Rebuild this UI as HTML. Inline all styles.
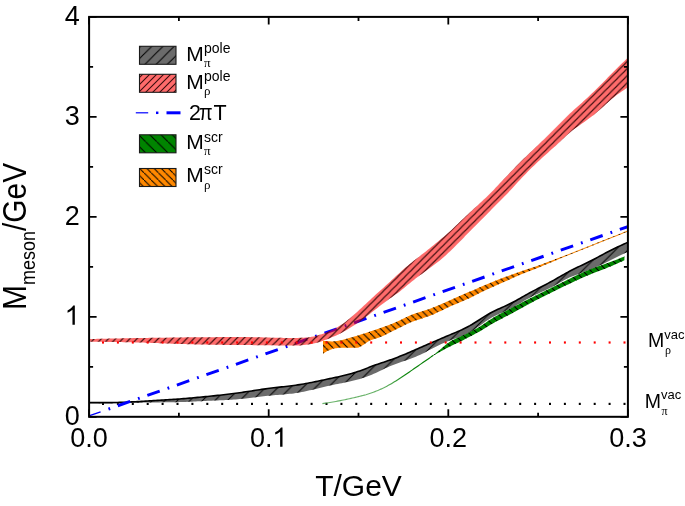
<!DOCTYPE html>
<html><head><meta charset="utf-8"><style>
html,body{margin:0;padding:0;background:#fff;}
body{width:685px;height:506px;overflow:hidden;position:relative;font-family:"Liberation Sans",sans-serif;}
svg{position:absolute;left:0;top:0;will-change:transform;}
text{font-family:"Liberation Sans",sans-serif;fill:#000;}
</style></head><body>
<svg width="685" height="506" viewBox="0 0 685 506">
<defs>
<pattern id="hg" patternUnits="userSpaceOnUse" width="12.5" height="12.5" patternTransform="translate(3,0)">
<path d="M-1,1 l2,-2 M0,12.5 l12.5,-12.5 M11.5,13.5 l2,-2" stroke="#000" stroke-width="1"/></pattern>
<pattern id="hr" patternUnits="userSpaceOnUse" width="7.1" height="7.1">
<path d="M-1,1 l2,-2 M0,7.1 l7.1,-7.1 M6.1,8.1 l2,-2" stroke="#3a0c0c" stroke-width="1.1"/></pattern>
<pattern id="hgr" patternUnits="userSpaceOnUse" width="8" height="8">
<path d="M-1,-1 l2,2 M0,0 l8,8 M7,7 l2,2" stroke="#000" stroke-width="1.1"/></pattern>
<pattern id="ho" patternUnits="userSpaceOnUse" width="7.4" height="7.4">
<path d="M-1,-1 l2,2 M0,0 l7.4,7.4 M6.4,6.4 l2,2" stroke="#000" stroke-width="1.1"/></pattern>
<pattern id="lg" patternUnits="userSpaceOnUse" width="11.2" height="11.2" patternTransform="translate(-3.5,0)">
<path d="M-1,1 l2,-2 M0,11.2 l11.2,-11.2 M10.2,12.2 l2,-2" stroke="#000" stroke-width="1"/></pattern>
<pattern id="lr" patternUnits="userSpaceOnUse" width="7" height="7">
<path d="M-1,1 l2,-2 M0,7 l7,-7 M6,8 l2,-2" stroke="#3a0c0c" stroke-width="1.1"/></pattern>
<pattern id="lgr" patternUnits="userSpaceOnUse" width="11.2" height="11.2" patternTransform="translate(0,-3.9)">
<path d="M-1,-1 l2,2 M0,0 l11.2,11.2 M10.2,10.2 l2,2" stroke="#000" stroke-width="1"/></pattern>
<pattern id="lo" patternUnits="userSpaceOnUse" width="7.2" height="7.2">
<path d="M-1,-1 l2,2 M0,0 l7.2,7.2 M6.2,6.2 l2,2" stroke="#000" stroke-width="1"/></pattern>
<clipPath id="pc"><rect x="89" y="17" width="539" height="400"/></clipPath>
</defs>

<g clip-path="url(#pc)">
<rect x="623.50" y="402.80" width="2" height="2.2" fill="#000"/><rect x="608.60" y="402.80" width="2" height="2.2" fill="#000"/><rect x="593.70" y="402.80" width="2" height="2.2" fill="#000"/><rect x="578.80" y="402.80" width="2" height="2.2" fill="#000"/><rect x="563.90" y="402.80" width="2" height="2.2" fill="#000"/><rect x="549.00" y="402.80" width="2" height="2.2" fill="#000"/><rect x="534.10" y="402.80" width="2" height="2.2" fill="#000"/><rect x="519.20" y="402.80" width="2" height="2.2" fill="#000"/><rect x="504.30" y="402.80" width="2" height="2.2" fill="#000"/><rect x="489.40" y="402.80" width="2" height="2.2" fill="#000"/><rect x="474.50" y="402.80" width="2" height="2.2" fill="#000"/><rect x="459.60" y="402.80" width="2" height="2.2" fill="#000"/><rect x="444.70" y="402.80" width="2" height="2.2" fill="#000"/><rect x="429.80" y="402.80" width="2" height="2.2" fill="#000"/><rect x="414.90" y="402.80" width="2" height="2.2" fill="#000"/><rect x="400.00" y="402.80" width="2" height="2.2" fill="#000"/><rect x="385.10" y="402.80" width="2" height="2.2" fill="#000"/><rect x="370.20" y="402.80" width="2" height="2.2" fill="#000"/><rect x="355.30" y="402.80" width="2" height="2.2" fill="#000"/><rect x="340.40" y="402.80" width="2" height="2.2" fill="#000"/><rect x="325.50" y="402.80" width="2" height="2.2" fill="#000"/><rect x="310.60" y="402.80" width="2" height="2.2" fill="#000"/><rect x="295.70" y="402.80" width="2" height="2.2" fill="#000"/><rect x="280.80" y="402.80" width="2" height="2.2" fill="#000"/><rect x="265.90" y="402.80" width="2" height="2.2" fill="#000"/><rect x="251.00" y="402.80" width="2" height="2.2" fill="#000"/><rect x="236.10" y="402.80" width="2" height="2.2" fill="#000"/><rect x="221.20" y="402.80" width="2" height="2.2" fill="#000"/><rect x="206.30" y="402.80" width="2" height="2.2" fill="#000"/><rect x="191.40" y="402.80" width="2" height="2.2" fill="#000"/><rect x="176.50" y="402.80" width="2" height="2.2" fill="#000"/><rect x="161.60" y="402.80" width="2" height="2.2" fill="#000"/><rect x="146.70" y="402.80" width="2" height="2.2" fill="#000"/><rect x="131.80" y="402.80" width="2" height="2.2" fill="#000"/><rect x="116.90" y="402.80" width="2" height="2.2" fill="#000"/><rect x="102.00" y="402.80" width="2" height="2.2" fill="#000"/>
<path d="M89.50,402.60 L91.50,402.61 L93.50,402.62 L95.51,402.63 L97.51,402.64 L99.51,402.64 L101.51,402.64 L103.51,402.64 L105.51,402.63 L107.52,402.62 L109.52,402.60 L111.52,402.58 L113.52,402.55 L115.52,402.51 L117.53,402.47 L119.53,402.41 L121.53,402.35 L123.53,402.28 L125.53,402.20 L127.54,402.11 L129.54,402.01 L131.54,401.91 L133.54,401.81 L135.54,401.70 L137.54,401.59 L139.55,401.47 L141.55,401.35 L143.55,401.23 L145.55,401.11 L147.55,400.99 L149.56,400.87 L151.56,400.75 L153.56,400.63 L155.56,400.51 L157.56,400.39 L159.57,400.27 L161.57,400.15 L163.57,400.03 L165.57,399.91 L167.57,399.78 L169.57,399.65 L171.58,399.52 L173.58,399.39 L175.58,399.25 L177.58,399.10 L179.58,398.96 L181.59,398.80 L183.59,398.64 L185.59,398.48 L187.59,398.31 L189.59,398.14 L191.59,397.97 L193.60,397.79 L195.60,397.60 L197.60,397.42 L199.60,397.23 L201.60,397.04 L203.61,396.84 L205.61,396.64 L207.61,396.44 L209.61,396.24 L211.61,396.03 L213.62,395.83 L215.62,395.62 L217.62,395.40 L219.62,395.18 L221.62,394.96 L223.62,394.74 L225.63,394.50 L227.63,394.27 L229.63,394.03 L231.63,393.78 L233.63,393.52 L235.64,393.26 L237.64,392.99 L239.64,392.71 L241.64,392.42 L243.64,392.13 L245.64,391.83 L247.65,391.53 L249.65,391.22 L251.65,390.92 L253.65,390.61 L255.65,390.31 L257.66,390.01 L259.66,389.71 L261.66,389.41 L263.66,389.13 L265.66,388.85 L267.67,388.58 L269.67,388.32 L271.67,388.07 L273.67,387.83 L275.67,387.59 L277.67,387.36 L279.68,387.14 L281.68,386.91 L283.68,386.68 L285.68,386.45 L287.68,386.22 L289.69,385.97 L291.69,385.72 L293.69,385.46 L295.69,385.18 L297.69,384.89 L299.70,384.59 L301.70,384.26 L303.70,383.92 L305.70,383.57 L307.70,383.20 L309.70,382.82 L311.71,382.43 L313.71,382.02 L315.71,381.62 L317.71,381.20 L319.71,380.78 L321.72,380.36 L323.72,379.93 L325.72,379.50 L327.72,379.08 L329.72,378.65 L331.72,378.23 L333.73,377.80 L335.73,377.38 L337.73,376.94 L339.73,376.50 L341.73,376.04 L343.74,375.57 L345.74,375.08 L347.74,374.57 L349.74,374.04 L351.74,373.48 L353.75,372.89 L355.75,372.27 L357.75,371.61 L359.75,370.92 L361.75,370.19 L363.75,369.44 L365.76,368.67 L367.76,367.88 L369.76,367.10 L371.76,366.33 L373.76,365.57 L375.77,364.85 L377.77,364.15 L379.77,363.47 L381.77,362.80 L383.77,362.14 L385.78,361.48 L387.78,360.81 L389.78,360.12 L391.78,359.40 L393.78,358.67 L395.78,357.91 L397.79,357.14 L399.79,356.34 L401.79,355.54 L403.79,354.72 L405.79,353.89 L407.80,353.04 L409.80,352.19 L411.80,351.33 L413.80,350.47 L415.80,349.60 L417.80,348.72 L419.81,347.85 L421.81,346.98 L423.81,346.10 L425.81,345.23 L427.81,344.35 L429.82,343.48 L431.82,342.61 L433.82,341.74 L435.82,340.87 L437.82,340.00 L439.83,339.13 L441.83,338.27 L443.83,337.42 L445.83,336.57 L447.83,335.72 L449.83,334.88 L451.84,334.04 L453.84,333.21 L455.84,332.37 L457.84,331.51 L459.84,330.63 L461.85,329.73 L463.85,328.78 L465.85,327.79 L467.85,326.75 L469.85,325.66 L471.86,324.50 L473.86,323.28 L475.86,322.03 L477.86,320.75 L479.86,319.46 L481.86,318.17 L483.87,316.89 L485.87,315.65 L487.87,314.45 L489.87,313.30 L491.87,312.23 L493.88,311.21 L495.88,310.25 L497.88,309.32 L499.88,308.41 L501.88,307.52 L503.88,306.63 L505.89,305.72 L507.89,304.79 L509.89,303.83 L511.89,302.82 L513.89,301.76 L515.90,300.68 L517.90,299.56 L519.90,298.43 L521.90,297.29 L523.90,296.14 L525.91,295.00 L527.91,293.87 L529.91,292.77 L531.91,291.69 L533.91,290.63 L535.91,289.59 L537.92,288.56 L539.92,287.54 L541.92,286.52 L543.92,285.50 L545.92,284.46 L547.93,283.40 L549.93,282.32 L551.93,281.22 L553.93,280.09 L555.93,278.95 L557.93,277.79 L559.94,276.64 L561.94,275.48 L563.94,274.34 L565.94,273.22 L567.94,272.12 L569.95,271.04 L571.95,270.01 L573.95,269.01 L575.95,268.03 L577.95,267.07 L579.96,266.11 L581.96,265.17 L583.96,264.22 L585.96,263.27 L587.96,262.30 L589.96,261.30 L591.97,260.28 L593.97,259.24 L595.97,258.18 L597.97,257.11 L599.97,256.03 L601.98,254.95 L603.98,253.87 L605.98,252.81 L607.98,251.75 L609.98,250.72 L611.99,249.71 L613.99,248.72 L615.99,247.75 L617.99,246.80 L619.99,245.86 L621.99,244.94 L624.00,244.02 L626.00,243.11 L628.00,242.20 L628.00,251.70 L626.00,252.66 L624.00,253.61 L621.99,254.57 L619.99,255.54 L617.99,256.50 L615.99,257.47 L613.99,258.45 L611.99,259.43 L609.98,260.42 L607.98,261.41 L605.98,262.41 L603.98,263.40 L601.98,264.38 L599.97,265.35 L597.97,266.30 L595.97,267.22 L593.97,268.12 L591.97,268.98 L589.96,269.79 L587.96,270.57 L585.96,271.30 L583.96,272.02 L581.96,272.72 L579.96,273.42 L577.95,274.14 L575.95,274.88 L573.95,275.65 L571.95,276.47 L569.95,277.35 L567.94,278.30 L565.94,279.31 L563.94,280.36 L561.94,281.44 L559.94,282.55 L557.93,283.67 L555.93,284.78 L553.93,285.89 L551.93,286.97 L549.93,288.01 L547.93,289.01 L545.92,289.97 L543.92,290.90 L541.92,291.82 L539.92,292.73 L537.92,293.65 L535.91,294.58 L533.91,295.54 L531.91,296.53 L529.91,297.58 L527.91,298.68 L525.91,299.82 L523.90,300.99 L521.90,302.18 L519.90,303.38 L517.90,304.57 L515.90,305.75 L513.89,306.89 L511.89,307.98 L509.89,309.02 L507.89,309.99 L505.89,310.91 L503.88,311.79 L501.88,312.67 L499.88,313.54 L497.88,314.44 L495.88,315.38 L493.88,316.38 L491.87,317.46 L489.87,318.63 L487.87,319.91 L485.87,321.27 L483.87,322.70 L481.86,324.17 L479.86,325.65 L477.86,327.12 L475.86,328.56 L473.86,329.94 L471.86,331.24 L469.85,332.43 L467.85,333.50 L465.85,334.46 L463.85,335.34 L461.85,336.13 L459.84,336.88 L457.84,337.58 L455.84,338.27 L453.84,338.95 L451.84,339.65 L449.83,340.39 L447.83,341.17 L445.83,342.01 L443.83,342.88 L441.83,343.79 L439.83,344.73 L437.82,345.71 L435.82,346.70 L433.82,347.72 L431.82,348.76 L429.82,349.81 L427.81,350.86 L425.81,351.91 L423.81,352.94 L421.81,353.94 L419.81,354.90 L417.80,355.81 L415.80,356.67 L413.80,357.48 L411.80,358.25 L409.80,358.98 L407.80,359.70 L405.79,360.40 L403.79,361.09 L401.79,361.78 L399.79,362.47 L397.79,363.18 L395.78,363.91 L393.78,364.66 L391.78,365.45 L389.78,366.29 L387.78,367.17 L385.78,368.10 L383.77,369.06 L381.77,370.04 L379.77,371.02 L377.77,371.99 L375.77,372.93 L373.76,373.84 L371.76,374.70 L369.76,375.51 L367.76,376.29 L365.76,377.02 L363.75,377.71 L361.75,378.37 L359.75,378.98 L357.75,379.55 L355.75,380.09 L353.75,380.59 L351.74,381.06 L349.74,381.52 L347.74,381.95 L345.74,382.36 L343.74,382.76 L341.73,383.15 L339.73,383.54 L337.73,383.93 L335.73,384.32 L333.73,384.72 L331.72,385.13 L329.72,385.55 L327.72,386.00 L325.72,386.46 L323.72,386.93 L321.72,387.42 L319.71,387.92 L317.71,388.41 L315.71,388.91 L313.71,389.41 L311.71,389.90 L309.70,390.37 L307.70,390.84 L305.70,391.28 L303.70,391.70 L301.70,392.10 L299.70,392.47 L297.69,392.81 L295.69,393.11 L293.69,393.39 L291.69,393.64 L289.69,393.87 L287.68,394.08 L285.68,394.27 L283.68,394.45 L281.68,394.63 L279.68,394.79 L277.67,394.95 L275.67,395.12 L273.67,395.29 L271.67,395.46 L269.67,395.64 L267.67,395.84 L265.66,396.05 L263.66,396.27 L261.66,396.50 L259.66,396.73 L257.66,396.97 L255.65,397.22 L253.65,397.46 L251.65,397.71 L249.65,397.95 L247.65,398.18 L245.64,398.41 L243.64,398.63 L241.64,398.84 L239.64,399.04 L237.64,399.22 L235.64,399.38 L233.63,399.54 L231.63,399.68 L229.63,399.81 L227.63,399.93 L225.63,400.04 L223.62,400.14 L221.62,400.24 L219.62,400.33 L217.62,400.42 L215.62,400.51 L213.62,400.60 L211.61,400.69 L209.61,400.77 L207.61,400.87 L205.61,400.96 L203.61,401.06 L201.60,401.15 L199.60,401.25 L197.60,401.35 L195.60,401.44 L193.60,401.54 L191.59,401.63 L189.59,401.72 L187.59,401.80 L185.59,401.88 L183.59,401.95 L181.59,402.02 L179.58,402.08 L177.58,402.13 L175.58,402.18 L173.58,402.22 L171.58,402.25 L169.57,402.28 L167.57,402.30 L165.57,402.32 L163.57,402.34 L161.57,402.36 L159.57,402.38 L157.56,402.39 L155.56,402.41 L153.56,402.44 L151.56,402.46 L149.56,402.49 L147.55,402.53 L145.55,402.57 L143.55,402.61 L141.55,402.66 L139.55,402.71 L137.54,402.77 L135.54,402.82 L133.54,402.88 L131.54,402.93 L129.54,402.98 L127.54,403.04 L125.53,403.08 L123.53,403.13 L121.53,403.17 L119.53,403.21 L117.53,403.24 L115.52,403.26 L113.52,403.28 L111.52,403.30 L109.52,403.31 L107.52,403.32 L105.51,403.33 L103.51,403.33 L101.51,403.33 L99.51,403.33 L97.51,403.33 L95.51,403.32 L93.50,403.31 L91.50,403.31 L89.50,403.30Z" fill="#6b6b6b"/><path d="M89.50,402.60 L91.50,402.61 L93.50,402.62 L95.51,402.63 L97.51,402.64 L99.51,402.64 L101.51,402.64 L103.51,402.64 L105.51,402.63 L107.52,402.62 L109.52,402.60 L111.52,402.58 L113.52,402.55 L115.52,402.51 L117.53,402.47 L119.53,402.41 L121.53,402.35 L123.53,402.28 L125.53,402.20 L127.54,402.11 L129.54,402.01 L131.54,401.91 L133.54,401.81 L135.54,401.70 L137.54,401.59 L139.55,401.47 L141.55,401.35 L143.55,401.23 L145.55,401.11 L147.55,400.99 L149.56,400.87 L151.56,400.75 L153.56,400.63 L155.56,400.51 L157.56,400.39 L159.57,400.27 L161.57,400.15 L163.57,400.03 L165.57,399.91 L167.57,399.78 L169.57,399.65 L171.58,399.52 L173.58,399.39 L175.58,399.25 L177.58,399.10 L179.58,398.96 L181.59,398.80 L183.59,398.64 L185.59,398.48 L187.59,398.31 L189.59,398.14 L191.59,397.97 L193.60,397.79 L195.60,397.60 L197.60,397.42 L199.60,397.23 L201.60,397.04 L203.61,396.84 L205.61,396.64 L207.61,396.44 L209.61,396.24 L211.61,396.03 L213.62,395.83 L215.62,395.62 L217.62,395.40 L219.62,395.18 L221.62,394.96 L223.62,394.74 L225.63,394.50 L227.63,394.27 L229.63,394.03 L231.63,393.78 L233.63,393.52 L235.64,393.26 L237.64,392.99 L239.64,392.71 L241.64,392.42 L243.64,392.13 L245.64,391.83 L247.65,391.53 L249.65,391.22 L251.65,390.92 L253.65,390.61 L255.65,390.31 L257.66,390.01 L259.66,389.71 L261.66,389.41 L263.66,389.13 L265.66,388.85 L267.67,388.58 L269.67,388.32 L271.67,388.07 L273.67,387.83 L275.67,387.59 L277.67,387.36 L279.68,387.14 L281.68,386.91 L283.68,386.68 L285.68,386.45 L287.68,386.22 L289.69,385.97 L291.69,385.72 L293.69,385.46 L295.69,385.18 L297.69,384.89 L299.70,384.59 L301.70,384.26 L303.70,383.92 L305.70,383.57 L307.70,383.20 L309.70,382.82 L311.71,382.43 L313.71,382.02 L315.71,381.62 L317.71,381.20 L319.71,380.78 L321.72,380.36 L323.72,379.93 L325.72,379.50 L327.72,379.08 L329.72,378.65 L331.72,378.23 L333.73,377.80 L335.73,377.38 L337.73,376.94 L339.73,376.50 L341.73,376.04 L343.74,375.57 L345.74,375.08 L347.74,374.57 L349.74,374.04 L351.74,373.48 L353.75,372.89 L355.75,372.27 L357.75,371.61 L359.75,370.92 L361.75,370.19 L363.75,369.44 L365.76,368.67 L367.76,367.88 L369.76,367.10 L371.76,366.33 L373.76,365.57 L375.77,364.85 L377.77,364.15 L379.77,363.47 L381.77,362.80 L383.77,362.14 L385.78,361.48 L387.78,360.81 L389.78,360.12 L391.78,359.40 L393.78,358.67 L395.78,357.91 L397.79,357.14 L399.79,356.34 L401.79,355.54 L403.79,354.72 L405.79,353.89 L407.80,353.04 L409.80,352.19 L411.80,351.33 L413.80,350.47 L415.80,349.60 L417.80,348.72 L419.81,347.85 L421.81,346.98 L423.81,346.10 L425.81,345.23 L427.81,344.35 L429.82,343.48 L431.82,342.61 L433.82,341.74 L435.82,340.87 L437.82,340.00 L439.83,339.13 L441.83,338.27 L443.83,337.42 L445.83,336.57 L447.83,335.72 L449.83,334.88 L451.84,334.04 L453.84,333.21 L455.84,332.37 L457.84,331.51 L459.84,330.63 L461.85,329.73 L463.85,328.78 L465.85,327.79 L467.85,326.75 L469.85,325.66 L471.86,324.50 L473.86,323.28 L475.86,322.03 L477.86,320.75 L479.86,319.46 L481.86,318.17 L483.87,316.89 L485.87,315.65 L487.87,314.45 L489.87,313.30 L491.87,312.23 L493.88,311.21 L495.88,310.25 L497.88,309.32 L499.88,308.41 L501.88,307.52 L503.88,306.63 L505.89,305.72 L507.89,304.79 L509.89,303.83 L511.89,302.82 L513.89,301.76 L515.90,300.68 L517.90,299.56 L519.90,298.43 L521.90,297.29 L523.90,296.14 L525.91,295.00 L527.91,293.87 L529.91,292.77 L531.91,291.69 L533.91,290.63 L535.91,289.59 L537.92,288.56 L539.92,287.54 L541.92,286.52 L543.92,285.50 L545.92,284.46 L547.93,283.40 L549.93,282.32 L551.93,281.22 L553.93,280.09 L555.93,278.95 L557.93,277.79 L559.94,276.64 L561.94,275.48 L563.94,274.34 L565.94,273.22 L567.94,272.12 L569.95,271.04 L571.95,270.01 L573.95,269.01 L575.95,268.03 L577.95,267.07 L579.96,266.11 L581.96,265.17 L583.96,264.22 L585.96,263.27 L587.96,262.30 L589.96,261.30 L591.97,260.28 L593.97,259.24 L595.97,258.18 L597.97,257.11 L599.97,256.03 L601.98,254.95 L603.98,253.87 L605.98,252.81 L607.98,251.75 L609.98,250.72 L611.99,249.71 L613.99,248.72 L615.99,247.75 L617.99,246.80 L619.99,245.86 L621.99,244.94 L624.00,244.02 L626.00,243.11 L628.00,242.20 L628.00,251.70 L626.00,252.66 L624.00,253.61 L621.99,254.57 L619.99,255.54 L617.99,256.50 L615.99,257.47 L613.99,258.45 L611.99,259.43 L609.98,260.42 L607.98,261.41 L605.98,262.41 L603.98,263.40 L601.98,264.38 L599.97,265.35 L597.97,266.30 L595.97,267.22 L593.97,268.12 L591.97,268.98 L589.96,269.79 L587.96,270.57 L585.96,271.30 L583.96,272.02 L581.96,272.72 L579.96,273.42 L577.95,274.14 L575.95,274.88 L573.95,275.65 L571.95,276.47 L569.95,277.35 L567.94,278.30 L565.94,279.31 L563.94,280.36 L561.94,281.44 L559.94,282.55 L557.93,283.67 L555.93,284.78 L553.93,285.89 L551.93,286.97 L549.93,288.01 L547.93,289.01 L545.92,289.97 L543.92,290.90 L541.92,291.82 L539.92,292.73 L537.92,293.65 L535.91,294.58 L533.91,295.54 L531.91,296.53 L529.91,297.58 L527.91,298.68 L525.91,299.82 L523.90,300.99 L521.90,302.18 L519.90,303.38 L517.90,304.57 L515.90,305.75 L513.89,306.89 L511.89,307.98 L509.89,309.02 L507.89,309.99 L505.89,310.91 L503.88,311.79 L501.88,312.67 L499.88,313.54 L497.88,314.44 L495.88,315.38 L493.88,316.38 L491.87,317.46 L489.87,318.63 L487.87,319.91 L485.87,321.27 L483.87,322.70 L481.86,324.17 L479.86,325.65 L477.86,327.12 L475.86,328.56 L473.86,329.94 L471.86,331.24 L469.85,332.43 L467.85,333.50 L465.85,334.46 L463.85,335.34 L461.85,336.13 L459.84,336.88 L457.84,337.58 L455.84,338.27 L453.84,338.95 L451.84,339.65 L449.83,340.39 L447.83,341.17 L445.83,342.01 L443.83,342.88 L441.83,343.79 L439.83,344.73 L437.82,345.71 L435.82,346.70 L433.82,347.72 L431.82,348.76 L429.82,349.81 L427.81,350.86 L425.81,351.91 L423.81,352.94 L421.81,353.94 L419.81,354.90 L417.80,355.81 L415.80,356.67 L413.80,357.48 L411.80,358.25 L409.80,358.98 L407.80,359.70 L405.79,360.40 L403.79,361.09 L401.79,361.78 L399.79,362.47 L397.79,363.18 L395.78,363.91 L393.78,364.66 L391.78,365.45 L389.78,366.29 L387.78,367.17 L385.78,368.10 L383.77,369.06 L381.77,370.04 L379.77,371.02 L377.77,371.99 L375.77,372.93 L373.76,373.84 L371.76,374.70 L369.76,375.51 L367.76,376.29 L365.76,377.02 L363.75,377.71 L361.75,378.37 L359.75,378.98 L357.75,379.55 L355.75,380.09 L353.75,380.59 L351.74,381.06 L349.74,381.52 L347.74,381.95 L345.74,382.36 L343.74,382.76 L341.73,383.15 L339.73,383.54 L337.73,383.93 L335.73,384.32 L333.73,384.72 L331.72,385.13 L329.72,385.55 L327.72,386.00 L325.72,386.46 L323.72,386.93 L321.72,387.42 L319.71,387.92 L317.71,388.41 L315.71,388.91 L313.71,389.41 L311.71,389.90 L309.70,390.37 L307.70,390.84 L305.70,391.28 L303.70,391.70 L301.70,392.10 L299.70,392.47 L297.69,392.81 L295.69,393.11 L293.69,393.39 L291.69,393.64 L289.69,393.87 L287.68,394.08 L285.68,394.27 L283.68,394.45 L281.68,394.63 L279.68,394.79 L277.67,394.95 L275.67,395.12 L273.67,395.29 L271.67,395.46 L269.67,395.64 L267.67,395.84 L265.66,396.05 L263.66,396.27 L261.66,396.50 L259.66,396.73 L257.66,396.97 L255.65,397.22 L253.65,397.46 L251.65,397.71 L249.65,397.95 L247.65,398.18 L245.64,398.41 L243.64,398.63 L241.64,398.84 L239.64,399.04 L237.64,399.22 L235.64,399.38 L233.63,399.54 L231.63,399.68 L229.63,399.81 L227.63,399.93 L225.63,400.04 L223.62,400.14 L221.62,400.24 L219.62,400.33 L217.62,400.42 L215.62,400.51 L213.62,400.60 L211.61,400.69 L209.61,400.77 L207.61,400.87 L205.61,400.96 L203.61,401.06 L201.60,401.15 L199.60,401.25 L197.60,401.35 L195.60,401.44 L193.60,401.54 L191.59,401.63 L189.59,401.72 L187.59,401.80 L185.59,401.88 L183.59,401.95 L181.59,402.02 L179.58,402.08 L177.58,402.13 L175.58,402.18 L173.58,402.22 L171.58,402.25 L169.57,402.28 L167.57,402.30 L165.57,402.32 L163.57,402.34 L161.57,402.36 L159.57,402.38 L157.56,402.39 L155.56,402.41 L153.56,402.44 L151.56,402.46 L149.56,402.49 L147.55,402.53 L145.55,402.57 L143.55,402.61 L141.55,402.66 L139.55,402.71 L137.54,402.77 L135.54,402.82 L133.54,402.88 L131.54,402.93 L129.54,402.98 L127.54,403.04 L125.53,403.08 L123.53,403.13 L121.53,403.17 L119.53,403.21 L117.53,403.24 L115.52,403.26 L113.52,403.28 L111.52,403.30 L109.52,403.31 L107.52,403.32 L105.51,403.33 L103.51,403.33 L101.51,403.33 L99.51,403.33 L97.51,403.33 L95.51,403.32 L93.50,403.31 L91.50,403.31 L89.50,403.30Z" fill="url(#hg)"/>
<path d="M89.50,402.60 L91.50,402.61 L93.50,402.62 L95.51,402.63 L97.51,402.64 L99.51,402.64 L101.51,402.64 L103.51,402.64 L105.51,402.63 L107.52,402.62 L109.52,402.60 L111.52,402.58 L113.52,402.55 L115.52,402.51 L117.53,402.47 L119.53,402.41 L121.53,402.35 L123.53,402.28 L125.53,402.20 L127.54,402.11 L129.54,402.01 L131.54,401.91 L133.54,401.81 L135.54,401.70 L137.54,401.59 L139.55,401.47 L141.55,401.35 L143.55,401.23 L145.55,401.11 L147.55,400.99 L149.56,400.87 L151.56,400.75 L153.56,400.63 L155.56,400.51 L157.56,400.39 L159.57,400.27 L161.57,400.15 L163.57,400.03 L165.57,399.91 L167.57,399.78 L169.57,399.65 L171.58,399.52 L173.58,399.39 L175.58,399.25 L177.58,399.10 L179.58,398.96 L181.59,398.80 L183.59,398.64 L185.59,398.48 L187.59,398.31 L189.59,398.14 L191.59,397.97 L193.60,397.79 L195.60,397.60 L197.60,397.42 L199.60,397.23 L201.60,397.04 L203.61,396.84 L205.61,396.64 L207.61,396.44 L209.61,396.24 L211.61,396.03 L213.62,395.83 L215.62,395.62 L217.62,395.40 L219.62,395.18 L221.62,394.96 L223.62,394.74 L225.63,394.50 L227.63,394.27 L229.63,394.03 L231.63,393.78 L233.63,393.52 L235.64,393.26 L237.64,392.99 L239.64,392.71 L241.64,392.42 L243.64,392.13 L245.64,391.83 L247.65,391.53 L249.65,391.22 L251.65,390.92 L253.65,390.61 L255.65,390.31 L257.66,390.01 L259.66,389.71 L261.66,389.41 L263.66,389.13 L265.66,388.85 L267.67,388.58 L269.67,388.32 L271.67,388.07 L273.67,387.83 L275.67,387.59 L277.67,387.36 L279.68,387.14 L281.68,386.91 L283.68,386.68 L285.68,386.45 L287.68,386.22 L289.69,385.97 L291.69,385.72 L293.69,385.46 L295.69,385.18 L297.69,384.89 L299.70,384.59 L301.70,384.26 L303.70,383.92 L305.70,383.57 L307.70,383.20 L309.70,382.82 L311.71,382.43 L313.71,382.02 L315.71,381.62 L317.71,381.20 L319.71,380.78 L321.72,380.36 L323.72,379.93 L325.72,379.50 L327.72,379.08 L329.72,378.65 L331.72,378.23 L333.73,377.80 L335.73,377.38 L337.73,376.94 L339.73,376.50 L341.73,376.04 L343.74,375.57 L345.74,375.08 L347.74,374.57 L349.74,374.04 L351.74,373.48 L353.75,372.89 L355.75,372.27 L357.75,371.61 L359.75,370.92 L361.75,370.19 L363.75,369.44 L365.76,368.67 L367.76,367.88 L369.76,367.10 L371.76,366.33 L373.76,365.57 L375.77,364.85 L377.77,364.15 L379.77,363.47 L381.77,362.80 L383.77,362.14 L385.78,361.48 L387.78,360.81 L389.78,360.12 L391.78,359.40 L393.78,358.67 L395.78,357.91 L397.79,357.14 L399.79,356.34 L401.79,355.54 L403.79,354.72 L405.79,353.89 L407.80,353.04 L409.80,352.19 L411.80,351.33 L413.80,350.47 L415.80,349.60 L417.80,348.72 L419.81,347.85 L421.81,346.98 L423.81,346.10 L425.81,345.23 L427.81,344.35 L429.82,343.48 L431.82,342.61 L433.82,341.74 L435.82,340.87 L437.82,340.00 L439.83,339.13 L441.83,338.27 L443.83,337.42 L445.83,336.57 L447.83,335.72 L449.83,334.88 L451.84,334.04 L453.84,333.21 L455.84,332.37 L457.84,331.51 L459.84,330.63 L461.85,329.73 L463.85,328.78 L465.85,327.79 L467.85,326.75 L469.85,325.66 L471.86,324.50 L473.86,323.28 L475.86,322.03 L477.86,320.75 L479.86,319.46 L481.86,318.17 L483.87,316.89 L485.87,315.65 L487.87,314.45 L489.87,313.30 L491.87,312.23 L493.88,311.21 L495.88,310.25 L497.88,309.32 L499.88,308.41 L501.88,307.52 L503.88,306.63 L505.89,305.72 L507.89,304.79 L509.89,303.83 L511.89,302.82 L513.89,301.76 L515.90,300.68 L517.90,299.56 L519.90,298.43 L521.90,297.29 L523.90,296.14 L525.91,295.00 L527.91,293.87 L529.91,292.77 L531.91,291.69 L533.91,290.63 L535.91,289.59 L537.92,288.56 L539.92,287.54 L541.92,286.52 L543.92,285.50 L545.92,284.46 L547.93,283.40 L549.93,282.32 L551.93,281.22 L553.93,280.09 L555.93,278.95 L557.93,277.79 L559.94,276.64 L561.94,275.48 L563.94,274.34 L565.94,273.22 L567.94,272.12 L569.95,271.04 L571.95,270.01 L573.95,269.01 L575.95,268.03 L577.95,267.07 L579.96,266.11 L581.96,265.17 L583.96,264.22 L585.96,263.27 L587.96,262.30 L589.96,261.30 L591.97,260.28 L593.97,259.24 L595.97,258.18 L597.97,257.11 L599.97,256.03 L601.98,254.95 L603.98,253.87 L605.98,252.81 L607.98,251.75 L609.98,250.72 L611.99,249.71 L613.99,248.72 L615.99,247.75 L617.99,246.80 L619.99,245.86 L621.99,244.94 L624.00,244.02 L626.00,243.11 L628.00,242.20" stroke="#000" stroke-width="1.6" fill="none"/>
<path d="M100.64,411.82L627.90,226.60" stroke="#0000ff" stroke-width="3" stroke-dasharray="13.1 8.3 1.8 8.1" stroke-dashoffset="13.1" fill="none"/>
<path d="M89.6,415.7L100.6,411.8" stroke="#0000ff" stroke-width="1.4" fill="none"/>
<path d="M89.50,339.00 L91.50,338.96 L93.50,338.92 L95.51,338.89 L97.51,338.85 L99.51,338.81 L101.51,338.77 L103.51,338.73 L105.51,338.69 L107.52,338.65 L109.52,338.61 L111.52,338.57 L113.52,338.53 L115.52,338.49 L117.53,338.45 L119.53,338.40 L121.53,338.36 L123.53,338.32 L125.53,338.28 L127.54,338.24 L129.54,338.20 L131.54,338.16 L133.54,338.12 L135.54,338.08 L137.54,338.04 L139.55,338.01 L141.55,337.98 L143.55,337.94 L145.55,337.91 L147.55,337.89 L149.56,337.86 L151.56,337.83 L153.56,337.81 L155.56,337.78 L157.56,337.76 L159.57,337.73 L161.57,337.71 L163.57,337.68 L165.57,337.66 L167.57,337.63 L169.57,337.60 L171.58,337.58 L173.58,337.55 L175.58,337.52 L177.58,337.49 L179.58,337.46 L181.59,337.43 L183.59,337.40 L185.59,337.37 L187.59,337.34 L189.59,337.32 L191.59,337.29 L193.60,337.27 L195.60,337.24 L197.60,337.22 L199.60,337.20 L201.60,337.19 L203.61,337.18 L205.61,337.17 L207.61,337.16 L209.61,337.15 L211.61,337.14 L213.62,337.13 L215.62,337.13 L217.62,337.12 L219.62,337.12 L221.62,337.11 L223.62,337.10 L225.63,337.09 L227.63,337.08 L229.63,337.07 L231.63,337.06 L233.63,337.05 L235.64,337.05 L237.64,337.04 L239.64,337.04 L241.64,337.04 L243.64,337.05 L245.64,337.06 L247.65,337.08 L249.65,337.10 L251.65,337.13 L253.65,337.17 L255.65,337.21 L257.66,337.26 L259.66,337.31 L261.66,337.36 L263.66,337.42 L265.66,337.48 L267.67,337.53 L269.67,337.59 L271.67,337.64 L273.67,337.69 L275.67,337.74 L277.67,337.78 L279.68,337.82 L281.68,337.86 L283.68,337.88 L285.68,337.91 L287.68,337.92 L289.69,337.93 L291.69,337.93 L293.69,337.93 L295.69,337.91 L297.69,337.88 L299.70,337.84 L301.70,337.79 L303.70,337.71 L305.70,337.60 L307.70,337.43 L309.70,337.19 L311.71,336.87 L313.71,336.48 L315.71,336.01 L317.71,335.47 L319.71,334.87 L321.72,334.21 L323.72,333.50 L325.72,332.74 L327.72,331.93 L329.72,331.07 L331.72,330.17 L333.73,329.21 L335.73,328.18 L337.73,327.07 L339.73,325.86 L341.73,324.54 L343.74,323.13 L345.74,321.63 L347.74,320.05 L349.74,318.41 L351.74,316.72 L353.75,314.98 L355.75,313.20 L357.75,311.39 L359.75,309.54 L361.75,307.68 L363.75,305.81 L365.76,303.93 L367.76,302.04 L369.76,300.17 L371.76,298.30 L373.76,296.45 L375.77,294.61 L377.77,292.79 L379.77,290.98 L381.77,289.18 L383.77,287.39 L385.78,285.59 L387.78,283.78 L389.78,281.95 L391.78,280.09 L393.78,278.22 L395.78,276.34 L397.79,274.48 L399.79,272.64 L401.79,270.84 L403.79,269.08 L405.79,267.35 L407.80,265.67 L409.80,264.02 L411.80,262.40 L413.80,260.81 L415.80,259.24 L417.80,257.68 L419.81,256.13 L421.81,254.57 L423.81,253.00 L425.81,251.42 L427.81,249.83 L429.82,248.22 L431.82,246.59 L433.82,244.95 L435.82,243.30 L437.82,241.65 L439.83,240.00 L441.83,238.36 L443.83,236.72 L445.83,235.05 L447.83,233.33 L449.83,231.56 L451.84,229.70 L453.84,227.79 L455.84,225.84 L457.84,223.88 L459.84,221.93 L461.85,220.02 L463.85,218.13 L465.85,216.26 L467.85,214.40 L469.85,212.55 L471.86,210.70 L473.86,208.85 L475.86,207.00 L477.86,205.14 L479.86,203.29 L481.86,201.43 L483.87,199.56 L485.87,197.67 L487.87,195.74 L489.87,193.77 L491.87,191.75 L493.88,189.69 L495.88,187.59 L497.88,185.47 L499.88,183.35 L501.88,181.23 L503.88,179.11 L505.89,177.00 L507.89,174.89 L509.89,172.80 L511.89,170.71 L513.89,168.63 L515.90,166.57 L517.90,164.53 L519.90,162.52 L521.90,160.54 L523.90,158.58 L525.91,156.64 L527.91,154.72 L529.91,152.81 L531.91,150.90 L533.91,149.00 L535.91,147.10 L537.92,145.18 L539.92,143.26 L541.92,141.33 L543.92,139.38 L545.92,137.42 L547.93,135.46 L549.93,133.48 L551.93,131.51 L553.93,129.53 L555.93,127.53 L557.93,125.53 L559.94,123.52 L561.94,121.49 L563.94,119.46 L565.94,117.45 L567.94,115.48 L569.95,113.55 L571.95,111.69 L573.95,109.86 L575.95,108.07 L577.95,106.29 L579.96,104.50 L581.96,102.69 L583.96,100.86 L585.96,99.01 L587.96,97.13 L589.96,95.24 L591.97,93.32 L593.97,91.38 L595.97,89.42 L597.97,87.44 L599.97,85.45 L601.98,83.44 L603.98,81.42 L605.98,79.39 L607.98,77.37 L609.98,75.34 L611.99,73.32 L613.99,71.31 L615.99,69.31 L617.99,67.31 L619.99,65.32 L621.99,63.35 L624.00,61.38 L626.00,59.42 L628.00,57.47 L628.00,87.20 L626.00,88.53 L624.00,89.88 L621.99,91.25 L619.99,92.65 L617.99,94.10 L615.99,95.60 L613.99,97.16 L611.99,98.79 L609.98,100.49 L607.98,102.25 L605.98,104.06 L603.98,105.89 L601.98,107.72 L599.97,109.53 L597.97,111.31 L595.97,113.04 L593.97,114.69 L591.97,116.28 L589.96,117.81 L587.96,119.30 L585.96,120.75 L583.96,122.18 L581.96,123.59 L579.96,124.99 L577.95,126.40 L575.95,127.84 L573.95,129.32 L571.95,130.87 L569.95,132.51 L567.94,134.24 L565.94,136.06 L563.94,137.93 L561.94,139.83 L559.94,141.73 L557.93,143.59 L555.93,145.43 L553.93,147.25 L551.93,149.05 L549.93,150.84 L547.93,152.63 L545.92,154.43 L543.92,156.23 L541.92,158.06 L539.92,159.91 L537.92,161.78 L535.91,163.69 L533.91,165.63 L531.91,167.59 L529.91,169.58 L527.91,171.60 L525.91,173.64 L523.90,175.71 L521.90,177.82 L519.90,179.95 L517.90,182.11 L515.90,184.29 L513.89,186.47 L511.89,188.64 L509.89,190.78 L507.89,192.88 L505.89,194.94 L503.88,196.99 L501.88,199.03 L499.88,201.06 L497.88,203.08 L495.88,205.10 L493.88,207.11 L491.87,209.12 L489.87,211.13 L487.87,213.13 L485.87,215.13 L483.87,217.13 L481.86,219.13 L479.86,221.14 L477.86,223.15 L475.86,225.17 L473.86,227.19 L471.86,229.22 L469.85,231.26 L467.85,233.30 L465.85,235.34 L463.85,237.39 L461.85,239.43 L459.84,241.46 L457.84,243.49 L455.84,245.49 L453.84,247.48 L451.84,249.45 L449.83,251.38 L447.83,253.28 L445.83,255.13 L443.83,256.94 L441.83,258.69 L439.83,260.38 L437.82,262.01 L435.82,263.58 L433.82,265.11 L431.82,266.61 L429.82,268.08 L427.81,269.54 L425.81,270.98 L423.81,272.43 L421.81,273.89 L419.81,275.36 L417.80,276.85 L415.80,278.37 L413.80,279.92 L411.80,281.50 L409.80,283.13 L407.80,284.79 L405.79,286.48 L403.79,288.15 L401.79,289.80 L399.79,291.38 L397.79,292.89 L395.78,294.34 L393.78,295.75 L391.78,297.16 L389.78,298.58 L387.78,300.03 L385.78,301.51 L383.77,303.01 L381.77,304.54 L379.77,306.08 L377.77,307.64 L375.77,309.20 L373.76,310.77 L371.76,312.34 L369.76,313.91 L367.76,315.47 L365.76,317.01 L363.75,318.53 L361.75,320.01 L359.75,321.45 L357.75,322.83 L355.75,324.16 L353.75,325.45 L351.74,326.71 L349.74,327.96 L347.74,329.20 L345.74,330.42 L343.74,331.60 L341.73,332.73 L339.73,333.79 L337.73,334.77 L335.73,335.68 L333.73,336.54 L331.72,337.36 L329.72,338.18 L327.72,338.99 L325.72,339.79 L323.72,340.57 L321.72,341.30 L319.71,341.96 L317.71,342.55 L315.71,343.07 L313.71,343.53 L311.71,343.93 L309.70,344.28 L307.70,344.59 L305.70,344.85 L303.70,345.08 L301.70,345.26 L299.70,345.40 L297.69,345.49 L295.69,345.56 L293.69,345.59 L291.69,345.60 L289.69,345.59 L287.68,345.56 L285.68,345.53 L283.68,345.50 L281.68,345.47 L279.68,345.44 L277.67,345.41 L275.67,345.38 L273.67,345.35 L271.67,345.32 L269.67,345.30 L267.67,345.27 L265.66,345.25 L263.66,345.23 L261.66,345.20 L259.66,345.18 L257.66,345.17 L255.65,345.15 L253.65,345.13 L251.65,345.11 L249.65,345.10 L247.65,345.08 L245.64,345.07 L243.64,345.05 L241.64,345.04 L239.64,345.02 L237.64,345.01 L235.64,344.99 L233.63,344.98 L231.63,344.96 L229.63,344.94 L227.63,344.93 L225.63,344.91 L223.62,344.88 L221.62,344.86 L219.62,344.84 L217.62,344.81 L215.62,344.78 L213.62,344.75 L211.61,344.72 L209.61,344.69 L207.61,344.65 L205.61,344.62 L203.61,344.58 L201.60,344.53 L199.60,344.49 L197.60,344.44 L195.60,344.40 L193.60,344.35 L191.59,344.29 L189.59,344.24 L187.59,344.18 L185.59,344.12 L183.59,344.06 L181.59,344.00 L179.58,343.93 L177.58,343.87 L175.58,343.80 L173.58,343.73 L171.58,343.66 L169.57,343.58 L167.57,343.51 L165.57,343.43 L163.57,343.35 L161.57,343.27 L159.57,343.20 L157.56,343.12 L155.56,343.04 L153.56,342.96 L151.56,342.89 L149.56,342.82 L147.55,342.74 L145.55,342.68 L143.55,342.61 L141.55,342.55 L139.55,342.49 L137.54,342.44 L135.54,342.38 L133.54,342.34 L131.54,342.29 L129.54,342.25 L127.54,342.21 L125.53,342.17 L123.53,342.14 L121.53,342.10 L119.53,342.07 L117.53,342.04 L115.52,342.01 L113.52,341.98 L111.52,341.94 L109.52,341.91 L107.52,341.88 L105.51,341.85 L103.51,341.82 L101.51,341.79 L99.51,341.76 L97.51,341.72 L95.51,341.69 L93.50,341.66 L91.50,341.63 L89.50,341.60Z" fill="#ff0000" fill-opacity="0.58"/><path d="M89.50,339.00 L91.50,338.96 L93.50,338.92 L95.51,338.89 L97.51,338.85 L99.51,338.81 L101.51,338.77 L103.51,338.73 L105.51,338.69 L107.52,338.65 L109.52,338.61 L111.52,338.57 L113.52,338.53 L115.52,338.49 L117.53,338.45 L119.53,338.40 L121.53,338.36 L123.53,338.32 L125.53,338.28 L127.54,338.24 L129.54,338.20 L131.54,338.16 L133.54,338.12 L135.54,338.08 L137.54,338.04 L139.55,338.01 L141.55,337.98 L143.55,337.94 L145.55,337.91 L147.55,337.89 L149.56,337.86 L151.56,337.83 L153.56,337.81 L155.56,337.78 L157.56,337.76 L159.57,337.73 L161.57,337.71 L163.57,337.68 L165.57,337.66 L167.57,337.63 L169.57,337.60 L171.58,337.58 L173.58,337.55 L175.58,337.52 L177.58,337.49 L179.58,337.46 L181.59,337.43 L183.59,337.40 L185.59,337.37 L187.59,337.34 L189.59,337.32 L191.59,337.29 L193.60,337.27 L195.60,337.24 L197.60,337.22 L199.60,337.20 L201.60,337.19 L203.61,337.18 L205.61,337.17 L207.61,337.16 L209.61,337.15 L211.61,337.14 L213.62,337.13 L215.62,337.13 L217.62,337.12 L219.62,337.12 L221.62,337.11 L223.62,337.10 L225.63,337.09 L227.63,337.08 L229.63,337.07 L231.63,337.06 L233.63,337.05 L235.64,337.05 L237.64,337.04 L239.64,337.04 L241.64,337.04 L243.64,337.05 L245.64,337.06 L247.65,337.08 L249.65,337.10 L251.65,337.13 L253.65,337.17 L255.65,337.21 L257.66,337.26 L259.66,337.31 L261.66,337.36 L263.66,337.42 L265.66,337.48 L267.67,337.53 L269.67,337.59 L271.67,337.64 L273.67,337.69 L275.67,337.74 L277.67,337.78 L279.68,337.82 L281.68,337.86 L283.68,337.88 L285.68,337.91 L287.68,337.92 L289.69,337.93 L291.69,337.93 L293.69,337.93 L295.69,337.91 L297.69,337.88 L299.70,337.84 L301.70,337.79 L303.70,337.71 L305.70,337.60 L307.70,337.43 L309.70,337.19 L311.71,336.87 L313.71,336.48 L315.71,336.01 L317.71,335.47 L319.71,334.87 L321.72,334.21 L323.72,333.50 L325.72,332.74 L327.72,331.93 L329.72,331.07 L331.72,330.17 L333.73,329.21 L335.73,328.18 L337.73,327.07 L339.73,325.86 L341.73,324.54 L343.74,323.13 L345.74,321.63 L347.74,320.05 L349.74,318.41 L351.74,316.72 L353.75,314.98 L355.75,313.20 L357.75,311.39 L359.75,309.54 L361.75,307.68 L363.75,305.81 L365.76,303.93 L367.76,302.04 L369.76,300.17 L371.76,298.30 L373.76,296.45 L375.77,294.61 L377.77,292.79 L379.77,290.98 L381.77,289.18 L383.77,287.39 L385.78,285.59 L387.78,283.78 L389.78,281.95 L391.78,280.09 L393.78,278.22 L395.78,276.34 L397.79,274.48 L399.79,272.64 L401.79,270.84 L403.79,269.08 L405.79,267.35 L407.80,265.67 L409.80,264.02 L411.80,262.40 L413.80,260.81 L415.80,259.24 L417.80,257.68 L419.81,256.13 L421.81,254.57 L423.81,253.00 L425.81,251.42 L427.81,249.83 L429.82,248.22 L431.82,246.59 L433.82,244.95 L435.82,243.30 L437.82,241.65 L439.83,240.00 L441.83,238.36 L443.83,236.72 L445.83,235.05 L447.83,233.33 L449.83,231.56 L451.84,229.70 L453.84,227.79 L455.84,225.84 L457.84,223.88 L459.84,221.93 L461.85,220.02 L463.85,218.13 L465.85,216.26 L467.85,214.40 L469.85,212.55 L471.86,210.70 L473.86,208.85 L475.86,207.00 L477.86,205.14 L479.86,203.29 L481.86,201.43 L483.87,199.56 L485.87,197.67 L487.87,195.74 L489.87,193.77 L491.87,191.75 L493.88,189.69 L495.88,187.59 L497.88,185.47 L499.88,183.35 L501.88,181.23 L503.88,179.11 L505.89,177.00 L507.89,174.89 L509.89,172.80 L511.89,170.71 L513.89,168.63 L515.90,166.57 L517.90,164.53 L519.90,162.52 L521.90,160.54 L523.90,158.58 L525.91,156.64 L527.91,154.72 L529.91,152.81 L531.91,150.90 L533.91,149.00 L535.91,147.10 L537.92,145.18 L539.92,143.26 L541.92,141.33 L543.92,139.38 L545.92,137.42 L547.93,135.46 L549.93,133.48 L551.93,131.51 L553.93,129.53 L555.93,127.53 L557.93,125.53 L559.94,123.52 L561.94,121.49 L563.94,119.46 L565.94,117.45 L567.94,115.48 L569.95,113.55 L571.95,111.69 L573.95,109.86 L575.95,108.07 L577.95,106.29 L579.96,104.50 L581.96,102.69 L583.96,100.86 L585.96,99.01 L587.96,97.13 L589.96,95.24 L591.97,93.32 L593.97,91.38 L595.97,89.42 L597.97,87.44 L599.97,85.45 L601.98,83.44 L603.98,81.42 L605.98,79.39 L607.98,77.37 L609.98,75.34 L611.99,73.32 L613.99,71.31 L615.99,69.31 L617.99,67.31 L619.99,65.32 L621.99,63.35 L624.00,61.38 L626.00,59.42 L628.00,57.47 L628.00,87.20 L626.00,88.53 L624.00,89.88 L621.99,91.25 L619.99,92.65 L617.99,94.10 L615.99,95.60 L613.99,97.16 L611.99,98.79 L609.98,100.49 L607.98,102.25 L605.98,104.06 L603.98,105.89 L601.98,107.72 L599.97,109.53 L597.97,111.31 L595.97,113.04 L593.97,114.69 L591.97,116.28 L589.96,117.81 L587.96,119.30 L585.96,120.75 L583.96,122.18 L581.96,123.59 L579.96,124.99 L577.95,126.40 L575.95,127.84 L573.95,129.32 L571.95,130.87 L569.95,132.51 L567.94,134.24 L565.94,136.06 L563.94,137.93 L561.94,139.83 L559.94,141.73 L557.93,143.59 L555.93,145.43 L553.93,147.25 L551.93,149.05 L549.93,150.84 L547.93,152.63 L545.92,154.43 L543.92,156.23 L541.92,158.06 L539.92,159.91 L537.92,161.78 L535.91,163.69 L533.91,165.63 L531.91,167.59 L529.91,169.58 L527.91,171.60 L525.91,173.64 L523.90,175.71 L521.90,177.82 L519.90,179.95 L517.90,182.11 L515.90,184.29 L513.89,186.47 L511.89,188.64 L509.89,190.78 L507.89,192.88 L505.89,194.94 L503.88,196.99 L501.88,199.03 L499.88,201.06 L497.88,203.08 L495.88,205.10 L493.88,207.11 L491.87,209.12 L489.87,211.13 L487.87,213.13 L485.87,215.13 L483.87,217.13 L481.86,219.13 L479.86,221.14 L477.86,223.15 L475.86,225.17 L473.86,227.19 L471.86,229.22 L469.85,231.26 L467.85,233.30 L465.85,235.34 L463.85,237.39 L461.85,239.43 L459.84,241.46 L457.84,243.49 L455.84,245.49 L453.84,247.48 L451.84,249.45 L449.83,251.38 L447.83,253.28 L445.83,255.13 L443.83,256.94 L441.83,258.69 L439.83,260.38 L437.82,262.01 L435.82,263.58 L433.82,265.11 L431.82,266.61 L429.82,268.08 L427.81,269.54 L425.81,270.98 L423.81,272.43 L421.81,273.89 L419.81,275.36 L417.80,276.85 L415.80,278.37 L413.80,279.92 L411.80,281.50 L409.80,283.13 L407.80,284.79 L405.79,286.48 L403.79,288.15 L401.79,289.80 L399.79,291.38 L397.79,292.89 L395.78,294.34 L393.78,295.75 L391.78,297.16 L389.78,298.58 L387.78,300.03 L385.78,301.51 L383.77,303.01 L381.77,304.54 L379.77,306.08 L377.77,307.64 L375.77,309.20 L373.76,310.77 L371.76,312.34 L369.76,313.91 L367.76,315.47 L365.76,317.01 L363.75,318.53 L361.75,320.01 L359.75,321.45 L357.75,322.83 L355.75,324.16 L353.75,325.45 L351.74,326.71 L349.74,327.96 L347.74,329.20 L345.74,330.42 L343.74,331.60 L341.73,332.73 L339.73,333.79 L337.73,334.77 L335.73,335.68 L333.73,336.54 L331.72,337.36 L329.72,338.18 L327.72,338.99 L325.72,339.79 L323.72,340.57 L321.72,341.30 L319.71,341.96 L317.71,342.55 L315.71,343.07 L313.71,343.53 L311.71,343.93 L309.70,344.28 L307.70,344.59 L305.70,344.85 L303.70,345.08 L301.70,345.26 L299.70,345.40 L297.69,345.49 L295.69,345.56 L293.69,345.59 L291.69,345.60 L289.69,345.59 L287.68,345.56 L285.68,345.53 L283.68,345.50 L281.68,345.47 L279.68,345.44 L277.67,345.41 L275.67,345.38 L273.67,345.35 L271.67,345.32 L269.67,345.30 L267.67,345.27 L265.66,345.25 L263.66,345.23 L261.66,345.20 L259.66,345.18 L257.66,345.17 L255.65,345.15 L253.65,345.13 L251.65,345.11 L249.65,345.10 L247.65,345.08 L245.64,345.07 L243.64,345.05 L241.64,345.04 L239.64,345.02 L237.64,345.01 L235.64,344.99 L233.63,344.98 L231.63,344.96 L229.63,344.94 L227.63,344.93 L225.63,344.91 L223.62,344.88 L221.62,344.86 L219.62,344.84 L217.62,344.81 L215.62,344.78 L213.62,344.75 L211.61,344.72 L209.61,344.69 L207.61,344.65 L205.61,344.62 L203.61,344.58 L201.60,344.53 L199.60,344.49 L197.60,344.44 L195.60,344.40 L193.60,344.35 L191.59,344.29 L189.59,344.24 L187.59,344.18 L185.59,344.12 L183.59,344.06 L181.59,344.00 L179.58,343.93 L177.58,343.87 L175.58,343.80 L173.58,343.73 L171.58,343.66 L169.57,343.58 L167.57,343.51 L165.57,343.43 L163.57,343.35 L161.57,343.27 L159.57,343.20 L157.56,343.12 L155.56,343.04 L153.56,342.96 L151.56,342.89 L149.56,342.82 L147.55,342.74 L145.55,342.68 L143.55,342.61 L141.55,342.55 L139.55,342.49 L137.54,342.44 L135.54,342.38 L133.54,342.34 L131.54,342.29 L129.54,342.25 L127.54,342.21 L125.53,342.17 L123.53,342.14 L121.53,342.10 L119.53,342.07 L117.53,342.04 L115.52,342.01 L113.52,341.98 L111.52,341.94 L109.52,341.91 L107.52,341.88 L105.51,341.85 L103.51,341.82 L101.51,341.79 L99.51,341.76 L97.51,341.72 L95.51,341.69 L93.50,341.66 L91.50,341.63 L89.50,341.60Z" fill="url(#hr)"/>
<linearGradient id="gthin" gradientUnits="userSpaceOnUse" x1="322" y1="0" x2="434" y2="0"><stop offset="0" stop-color="#3a9a3a" stop-opacity="0.75"/><stop offset="0.55" stop-color="#1a8a1a" stop-opacity="0.65"/><stop offset="0.75" stop-color="#008000" stop-opacity="0.95"/><stop offset="1" stop-color="#007a00" stop-opacity="1"/></linearGradient>
<path d="M322.40,403.60 L323.90,403.39 L325.40,403.17 L326.90,402.95 L328.40,402.72 L329.90,402.49 L331.40,402.25 L332.90,402.00 L334.40,401.73 L335.90,401.46 L337.40,401.18 L338.90,400.90 L340.40,400.60 L341.90,400.30 L343.40,400.00 L344.90,399.69 L346.40,399.37 L347.90,399.05 L349.40,398.73 L350.90,398.40 L352.40,398.06 L353.90,397.72 L355.40,397.37 L356.90,397.02 L358.40,396.66 L359.90,396.29 L361.40,395.92 L362.90,395.52 L364.40,395.11 L365.90,394.69 L367.40,394.23 L368.90,393.76 L370.40,393.27 L371.90,392.75 L373.40,392.20 L374.90,391.64 L376.40,391.05 L377.90,390.44 L379.40,389.80 L380.90,389.14 L382.40,388.45 L383.90,387.72 L385.40,386.97 L386.90,386.19 L388.40,385.37 L389.90,384.53 L391.40,383.66 L392.90,382.76 L394.40,381.84 L395.90,380.90 L397.40,379.95 L398.90,378.98 L400.40,377.99 L401.90,377.00 L403.40,376.00 L404.90,374.99 L406.40,373.97 L407.90,372.94 L409.40,371.91 L410.90,370.88 L412.40,369.85 L413.90,368.81 L415.40,367.77 L416.90,366.73 L418.40,365.69 L419.90,364.65 L421.40,363.61 L422.90,362.57 L424.40,361.53 L425.90,360.49 L427.40,359.45 L428.90,358.41 L430.40,357.38 L431.90,356.34 L433.40,355.30" stroke="url(#gthin)" stroke-width="1.15" fill="none"/>
<path d="M433.40,355.09 L435.41,353.47 L437.42,351.83 L439.43,350.14 L441.44,348.41 L443.45,346.67 L445.46,344.99 L447.47,343.44 L449.48,342.06 L451.49,340.84 L453.51,339.76 L455.52,338.77 L457.53,337.84 L459.54,336.94 L461.55,336.05 L463.56,335.12 L465.57,334.17 L467.58,333.19 L469.59,332.19 L471.60,331.16 L473.61,330.11 L475.62,329.02 L477.63,327.88 L479.64,326.67 L481.65,325.38 L483.66,324.04 L485.67,322.68 L487.68,321.33 L489.69,320.00 L491.71,318.73 L493.72,317.51 L495.73,316.33 L497.74,315.20 L499.75,314.10 L501.76,313.03 L503.77,311.98 L505.78,310.94 L507.79,309.91 L509.80,308.88 L511.81,307.84 L513.82,306.79 L515.83,305.74 L517.84,304.69 L519.85,303.64 L521.86,302.60 L523.87,301.55 L525.88,300.51 L527.89,299.48 L529.91,298.46 L531.92,297.45 L533.93,296.45 L535.94,295.46 L537.95,294.47 L539.96,293.49 L541.97,292.51 L543.98,291.54 L545.99,290.56 L548.00,289.57 L550.01,288.58 L552.02,287.59 L554.03,286.59 L556.04,285.59 L558.05,284.58 L560.06,283.57 L562.07,282.56 L564.08,281.55 L566.09,280.54 L568.11,279.54 L570.12,278.54 L572.13,277.55 L574.14,276.56 L576.15,275.59 L578.16,274.63 L580.17,273.69 L582.18,272.77 L584.19,271.87 L586.20,271.00 L588.21,270.15 L590.22,269.34 L592.23,268.56 L594.24,267.80 L596.25,267.07 L598.26,266.35 L600.27,265.64 L602.28,264.93 L604.29,264.23 L606.31,263.52 L608.32,262.79 L610.33,262.05 L612.34,261.29 L614.35,260.50 L616.36,259.70 L618.37,258.89 L620.38,258.07 L622.39,257.24 L624.40,256.41 L624.40,260.21 L622.39,261.14 L620.38,262.07 L618.37,263.00 L616.36,263.91 L614.35,264.80 L612.34,265.68 L610.33,266.54 L608.32,267.37 L606.31,268.18 L604.29,268.97 L602.28,269.75 L600.27,270.52 L598.26,271.28 L596.25,272.06 L594.24,272.83 L592.23,273.62 L590.22,274.43 L588.21,275.26 L586.20,276.11 L584.19,276.98 L582.18,277.86 L580.17,278.76 L578.16,279.68 L576.15,280.61 L574.14,281.54 L572.13,282.49 L570.12,283.44 L568.11,284.40 L566.09,285.36 L564.08,286.32 L562.07,287.29 L560.06,288.27 L558.05,289.25 L556.04,290.23 L554.03,291.21 L552.02,292.20 L550.01,293.19 L548.00,294.18 L545.99,295.18 L543.98,296.19 L541.97,297.20 L539.96,298.21 L537.95,299.24 L535.94,300.28 L533.93,301.33 L531.92,302.39 L529.91,303.47 L527.89,304.56 L525.88,305.66 L523.87,306.77 L521.86,307.88 L519.85,309.00 L517.84,310.11 L515.83,311.22 L513.82,312.32 L511.81,313.40 L509.80,314.47 L507.79,315.52 L505.78,316.56 L503.77,317.60 L501.76,318.63 L499.75,319.68 L497.74,320.74 L495.73,321.82 L493.72,322.94 L491.71,324.09 L489.69,325.28 L487.68,326.52 L485.67,327.78 L483.66,329.04 L481.65,330.28 L479.64,331.46 L477.63,332.56 L475.62,333.61 L473.61,334.63 L471.60,335.65 L469.59,336.71 L467.58,337.77 L465.57,338.84 L463.56,339.90 L461.55,340.94 L459.54,341.93 L457.53,342.90 L455.52,343.85 L453.51,344.80 L451.49,345.76 L449.48,346.75 L447.47,347.77 L445.46,348.84 L443.45,349.94 L441.44,351.06 L439.43,352.19 L437.42,353.33 L435.41,354.47 L433.40,355.61Z" fill="#008400"/><path d="M433.40,355.09 L435.41,353.47 L437.42,351.83 L439.43,350.14 L441.44,348.41 L443.45,346.67 L445.46,344.99 L447.47,343.44 L449.48,342.06 L451.49,340.84 L453.51,339.76 L455.52,338.77 L457.53,337.84 L459.54,336.94 L461.55,336.05 L463.56,335.12 L465.57,334.17 L467.58,333.19 L469.59,332.19 L471.60,331.16 L473.61,330.11 L475.62,329.02 L477.63,327.88 L479.64,326.67 L481.65,325.38 L483.66,324.04 L485.67,322.68 L487.68,321.33 L489.69,320.00 L491.71,318.73 L493.72,317.51 L495.73,316.33 L497.74,315.20 L499.75,314.10 L501.76,313.03 L503.77,311.98 L505.78,310.94 L507.79,309.91 L509.80,308.88 L511.81,307.84 L513.82,306.79 L515.83,305.74 L517.84,304.69 L519.85,303.64 L521.86,302.60 L523.87,301.55 L525.88,300.51 L527.89,299.48 L529.91,298.46 L531.92,297.45 L533.93,296.45 L535.94,295.46 L537.95,294.47 L539.96,293.49 L541.97,292.51 L543.98,291.54 L545.99,290.56 L548.00,289.57 L550.01,288.58 L552.02,287.59 L554.03,286.59 L556.04,285.59 L558.05,284.58 L560.06,283.57 L562.07,282.56 L564.08,281.55 L566.09,280.54 L568.11,279.54 L570.12,278.54 L572.13,277.55 L574.14,276.56 L576.15,275.59 L578.16,274.63 L580.17,273.69 L582.18,272.77 L584.19,271.87 L586.20,271.00 L588.21,270.15 L590.22,269.34 L592.23,268.56 L594.24,267.80 L596.25,267.07 L598.26,266.35 L600.27,265.64 L602.28,264.93 L604.29,264.23 L606.31,263.52 L608.32,262.79 L610.33,262.05 L612.34,261.29 L614.35,260.50 L616.36,259.70 L618.37,258.89 L620.38,258.07 L622.39,257.24 L624.40,256.41 L624.40,260.21 L622.39,261.14 L620.38,262.07 L618.37,263.00 L616.36,263.91 L614.35,264.80 L612.34,265.68 L610.33,266.54 L608.32,267.37 L606.31,268.18 L604.29,268.97 L602.28,269.75 L600.27,270.52 L598.26,271.28 L596.25,272.06 L594.24,272.83 L592.23,273.62 L590.22,274.43 L588.21,275.26 L586.20,276.11 L584.19,276.98 L582.18,277.86 L580.17,278.76 L578.16,279.68 L576.15,280.61 L574.14,281.54 L572.13,282.49 L570.12,283.44 L568.11,284.40 L566.09,285.36 L564.08,286.32 L562.07,287.29 L560.06,288.27 L558.05,289.25 L556.04,290.23 L554.03,291.21 L552.02,292.20 L550.01,293.19 L548.00,294.18 L545.99,295.18 L543.98,296.19 L541.97,297.20 L539.96,298.21 L537.95,299.24 L535.94,300.28 L533.93,301.33 L531.92,302.39 L529.91,303.47 L527.89,304.56 L525.88,305.66 L523.87,306.77 L521.86,307.88 L519.85,309.00 L517.84,310.11 L515.83,311.22 L513.82,312.32 L511.81,313.40 L509.80,314.47 L507.79,315.52 L505.78,316.56 L503.77,317.60 L501.76,318.63 L499.75,319.68 L497.74,320.74 L495.73,321.82 L493.72,322.94 L491.71,324.09 L489.69,325.28 L487.68,326.52 L485.67,327.78 L483.66,329.04 L481.65,330.28 L479.64,331.46 L477.63,332.56 L475.62,333.61 L473.61,334.63 L471.60,335.65 L469.59,336.71 L467.58,337.77 L465.57,338.84 L463.56,339.90 L461.55,340.94 L459.54,341.93 L457.53,342.90 L455.52,343.85 L453.51,344.80 L451.49,345.76 L449.48,346.75 L447.47,347.77 L445.46,348.84 L443.45,349.94 L441.44,351.06 L439.43,352.19 L437.42,353.33 L435.41,354.47 L433.40,355.61Z" fill="url(#hgr)"/>
<path d="M323.00,340.80C324.58,340.92 329.45,341.58 332.50,341.50C335.55,341.42 338.38,340.92 341.30,340.30C344.22,339.68 347.08,338.63 350.00,337.80C352.92,336.97 355.47,336.33 358.80,335.30C362.13,334.27 366.60,332.72 370.00,331.60C373.40,330.48 376.03,329.68 379.20,328.60C382.37,327.52 385.53,326.50 389.00,325.10C392.47,323.70 396.50,321.80 400.00,320.20C403.50,318.60 406.83,316.82 410.00,315.50C413.17,314.18 415.67,313.42 419.00,312.30C422.33,311.18 426.50,310.05 430.00,308.80C433.50,307.55 436.83,306.13 440.00,304.80C443.17,303.47 444.00,303.00 449.00,300.80C454.00,298.60 463.67,294.37 470.00,291.60C476.33,288.83 481.17,286.62 487.00,284.20C492.83,281.78 499.17,279.32 505.00,277.10C510.83,274.88 516.17,272.92 522.00,270.90C527.83,268.88 534.50,266.93 540.00,265.00C545.50,263.07 550.17,261.15 555.00,259.30C559.83,257.45 564.17,255.78 569.00,253.90C573.83,252.02 579.00,249.98 584.00,248.00C589.00,246.02 594.17,243.92 599.00,242.00C603.83,240.08 608.17,238.43 613.00,236.50C617.83,234.57 625.50,231.42 628.00,230.40L628.00,231.40C625.50,232.42 617.83,235.55 613.00,237.50C608.17,239.45 603.83,241.17 599.00,243.10C594.17,245.03 589.00,247.10 584.00,249.10C579.00,251.10 573.83,253.15 569.00,255.10C564.17,257.05 559.83,258.83 555.00,260.80C550.17,262.77 545.50,264.72 540.00,266.90C534.50,269.08 527.83,271.45 522.00,273.90C516.17,276.35 510.83,278.98 505.00,281.60C499.17,284.22 492.83,286.88 487.00,289.60C481.17,292.32 476.33,295.02 470.00,297.90C463.67,300.78 454.00,304.67 449.00,306.90C444.00,309.13 443.17,309.82 440.00,311.30C436.83,312.78 435.00,313.90 430.00,315.80C425.00,317.70 415.00,320.73 410.00,322.70C405.00,324.67 403.50,325.88 400.00,327.60C396.50,329.32 392.47,331.35 389.00,333.00C385.53,334.65 382.37,336.25 379.20,337.50C376.03,338.75 372.53,339.33 370.00,340.50C367.47,341.67 365.87,343.35 364.00,344.50C362.13,345.65 360.40,346.85 358.80,347.40C357.20,347.95 356.60,347.73 354.40,347.80C352.20,347.87 348.37,347.77 345.60,347.80C342.83,347.83 339.98,347.82 337.80,348.00C335.62,348.18 334.25,348.38 332.50,348.90C330.75,349.42 328.88,350.30 327.30,351.10C325.72,351.90 323.72,353.27 323.00,353.70Z" fill="#ff8800"/><path d="M323.00,340.80C324.58,340.92 329.45,341.58 332.50,341.50C335.55,341.42 338.38,340.92 341.30,340.30C344.22,339.68 347.08,338.63 350.00,337.80C352.92,336.97 355.47,336.33 358.80,335.30C362.13,334.27 366.60,332.72 370.00,331.60C373.40,330.48 376.03,329.68 379.20,328.60C382.37,327.52 385.53,326.50 389.00,325.10C392.47,323.70 396.50,321.80 400.00,320.20C403.50,318.60 406.83,316.82 410.00,315.50C413.17,314.18 415.67,313.42 419.00,312.30C422.33,311.18 426.50,310.05 430.00,308.80C433.50,307.55 436.83,306.13 440.00,304.80C443.17,303.47 444.00,303.00 449.00,300.80C454.00,298.60 463.67,294.37 470.00,291.60C476.33,288.83 481.17,286.62 487.00,284.20C492.83,281.78 499.17,279.32 505.00,277.10C510.83,274.88 516.17,272.92 522.00,270.90C527.83,268.88 534.50,266.93 540.00,265.00C545.50,263.07 550.17,261.15 555.00,259.30C559.83,257.45 564.17,255.78 569.00,253.90C573.83,252.02 579.00,249.98 584.00,248.00C589.00,246.02 594.17,243.92 599.00,242.00C603.83,240.08 608.17,238.43 613.00,236.50C617.83,234.57 625.50,231.42 628.00,230.40L628.00,231.40C625.50,232.42 617.83,235.55 613.00,237.50C608.17,239.45 603.83,241.17 599.00,243.10C594.17,245.03 589.00,247.10 584.00,249.10C579.00,251.10 573.83,253.15 569.00,255.10C564.17,257.05 559.83,258.83 555.00,260.80C550.17,262.77 545.50,264.72 540.00,266.90C534.50,269.08 527.83,271.45 522.00,273.90C516.17,276.35 510.83,278.98 505.00,281.60C499.17,284.22 492.83,286.88 487.00,289.60C481.17,292.32 476.33,295.02 470.00,297.90C463.67,300.78 454.00,304.67 449.00,306.90C444.00,309.13 443.17,309.82 440.00,311.30C436.83,312.78 435.00,313.90 430.00,315.80C425.00,317.70 415.00,320.73 410.00,322.70C405.00,324.67 403.50,325.88 400.00,327.60C396.50,329.32 392.47,331.35 389.00,333.00C385.53,334.65 382.37,336.25 379.20,337.50C376.03,338.75 372.53,339.33 370.00,340.50C367.47,341.67 365.87,343.35 364.00,344.50C362.13,345.65 360.40,346.85 358.80,347.40C357.20,347.95 356.60,347.73 354.40,347.80C352.20,347.87 348.37,347.77 345.60,347.80C342.83,347.83 339.98,347.82 337.80,348.00C335.62,348.18 334.25,348.38 332.50,348.90C330.75,349.42 328.88,350.30 327.30,351.10C325.72,351.90 323.72,353.27 323.00,353.70Z" fill="url(#ho)"/>
<rect x="623.50" y="341.40" width="2" height="2.2" fill="#ff0000"/><rect x="608.60" y="341.40" width="2" height="2.2" fill="#ff0000"/><rect x="593.70" y="341.40" width="2" height="2.2" fill="#ff0000"/><rect x="578.80" y="341.40" width="2" height="2.2" fill="#ff0000"/><rect x="563.90" y="341.40" width="2" height="2.2" fill="#ff0000"/><rect x="549.00" y="341.40" width="2" height="2.2" fill="#ff0000"/><rect x="534.10" y="341.40" width="2" height="2.2" fill="#ff0000"/><rect x="519.20" y="341.40" width="2" height="2.2" fill="#ff0000"/><rect x="504.30" y="341.40" width="2" height="2.2" fill="#ff0000"/><rect x="489.40" y="341.40" width="2" height="2.2" fill="#ff0000"/><rect x="474.50" y="341.40" width="2" height="2.2" fill="#ff0000"/><rect x="459.60" y="341.40" width="2" height="2.2" fill="#ff0000"/><rect x="444.70" y="341.40" width="2" height="2.2" fill="#ff0000"/><rect x="429.80" y="341.40" width="2" height="2.2" fill="#ff0000"/><rect x="414.90" y="341.40" width="2" height="2.2" fill="#ff0000"/><rect x="400.00" y="341.40" width="2" height="2.2" fill="#ff0000"/><rect x="385.10" y="341.40" width="2" height="2.2" fill="#ff0000"/><rect x="370.20" y="341.40" width="2" height="2.2" fill="#ff0000"/><rect x="355.30" y="341.40" width="2" height="2.2" fill="#ff0000"/><rect x="340.40" y="341.40" width="2" height="2.2" fill="#ff0000"/><rect x="325.50" y="341.40" width="2" height="2.2" fill="#ff0000"/><rect x="310.60" y="341.40" width="2" height="2.2" fill="#ff0000"/><rect x="295.70" y="341.40" width="2" height="2.2" fill="#ff0000"/><rect x="280.80" y="341.40" width="2" height="2.2" fill="#ff0000"/><rect x="265.90" y="341.40" width="2" height="2.2" fill="#ff0000"/><rect x="251.00" y="341.40" width="2" height="2.2" fill="#ff0000"/><rect x="236.10" y="341.40" width="2" height="2.2" fill="#ff0000"/><rect x="221.20" y="341.40" width="2" height="2.2" fill="#ff0000"/><rect x="206.30" y="341.40" width="2" height="2.2" fill="#ff0000"/><rect x="191.40" y="341.40" width="2" height="2.2" fill="#ff0000"/><rect x="176.50" y="341.40" width="2" height="2.2" fill="#ff0000"/><rect x="161.60" y="341.40" width="2" height="2.2" fill="#ff0000"/><rect x="146.70" y="341.40" width="2" height="2.2" fill="#ff0000"/><rect x="131.80" y="341.40" width="2" height="2.2" fill="#ff0000"/><rect x="116.90" y="341.40" width="2" height="2.2" fill="#ff0000"/><rect x="102.00" y="341.40" width="2" height="2.2" fill="#ff0000"/>
</g>
<rect x="89.10" y="16.90" width="538.80" height="399.90" fill="none" stroke="#000" stroke-width="2"/>
<path d="M89.10,416.80v-7.50M89.10,16.90v7.50M178.90,416.80v-4.00M178.90,16.90v4.00M268.70,416.80v-7.50M268.70,16.90v7.50M358.50,416.80v-4.00M358.50,16.90v4.00M448.30,416.80v-7.50M448.30,16.90v7.50M538.10,416.80v-4.00M538.10,16.90v4.00M627.90,416.80v-7.50M627.90,16.90v7.50M89.10,416.80h7.50M627.90,416.80h-7.50M89.10,366.81h4.00M627.90,366.81h-4.00M89.10,316.82h7.50M627.90,316.82h-7.50M89.10,266.84h4.00M627.90,266.84h-4.00M89.10,216.85h7.50M627.90,216.85h-7.50M89.10,166.86h4.00M627.90,166.86h-4.00M89.10,116.88h7.50M627.90,116.88h-7.50M89.10,66.89h4.00M627.90,66.89h-4.00M89.10,16.90h7.50M627.90,16.90h-7.50" stroke="#000" stroke-width="1.8" fill="none"/>
<text x="89.10" y="446.80" font-size="27" text-anchor="middle">0.0</text>
<text x="249.93" y="446.80" font-size="27">0.</text>
<path d="M583,0L763,0L763,1466L646,1466L560,1345L420,1215L210,1095L210,925L400,1015L583,1140Z" transform="translate(272.45,446.80) scale(0.01318,-0.01318)" fill="#000"/>
<text x="448.30" y="446.80" font-size="27" text-anchor="middle">0.2</text>
<text x="627.90" y="446.80" font-size="27" text-anchor="middle">0.3</text>
<text x="79.80" y="424.80" font-size="27" text-anchor="end">0</text>
<path d="M583,0L763,0L763,1466L646,1466L560,1345L420,1215L210,1095L210,925L400,1015L583,1140Z" transform="translate(64.78,324.82) scale(0.01318,-0.01318)" fill="#000"/>
<text x="79.80" y="224.85" font-size="27" text-anchor="end">2</text>
<text x="79.80" y="124.88" font-size="27" text-anchor="end">3</text>
<text x="79.80" y="24.90" font-size="27" text-anchor="end">4</text>
<text x="358.5" y="496" font-size="30" text-anchor="middle">T/GeV</text>
<text transform="translate(25.8,310) rotate(-90) scale(1,1.1)" font-size="30">M<tspan font-size="18" dy="8.6">meson</tspan><tspan dy="-8.6">/GeV</tspan></text>
<rect x="139.5" y="46.30" width="36.5" height="18" fill="#6b6b6b" fill-opacity="1"/><rect x="139.5" y="46.30" width="36.5" height="18" fill="url(#lg)" stroke="#1a1a1a" stroke-width="1.1"/>
<rect x="139.5" y="74.30" width="36.5" height="18" fill="#ff0000" fill-opacity="0.58"/><rect x="139.5" y="74.30" width="36.5" height="18" fill="url(#lr)" stroke="#1a1a1a" stroke-width="1.1"/>
<rect x="139.5" y="134.80" width="36.5" height="18" fill="#008400" fill-opacity="1"/><rect x="139.5" y="134.80" width="36.5" height="18" fill="url(#lgr)" stroke="#1a1a1a" stroke-width="1.1"/>
<rect x="139.5" y="168.50" width="36.5" height="18" fill="#ff8800" fill-opacity="1"/><rect x="139.5" y="168.50" width="36.5" height="18" fill="url(#lo)" stroke="#1a1a1a" stroke-width="1.1"/>
<path d="M135.8,112.8h12.4" stroke="#0000ff" stroke-width="1.2"/><path d="M156,112.8h2.4" stroke="#0000ff" stroke-width="2.5"/><path d="M166.5,112.8h14" stroke="#0000ff" stroke-width="3"/>
<text x="186.2" y="60.80" font-size="21">M<tspan font-size="14" dx="0.3" dy="-7.6">pole</tspan></text><text x="204" y="67.10" font-size="13" style="font-family:'Liberation Serif',serif">π</text>
<text x="186.2" y="89.00" font-size="21">M<tspan font-size="14" dx="0.3" dy="-7.6">pole</tspan></text><text x="204" y="94.90" font-size="13" style="font-family:'Liberation Serif',serif">ρ</text>
<text x="189" y="119.8" font-size="21.5">2</text><text transform="translate(199.3,119.8) scale(0.9,1)" font-size="21.5">π</text><text x="213.4" y="119.8" font-size="21.5">T</text>
<text x="186.2" y="149.40" font-size="21">M<tspan font-size="14" dx="0.3" dy="-7.6">scr</tspan></text><text x="204" y="155.30" font-size="13" style="font-family:'Liberation Serif',serif">π</text>
<text x="186.2" y="182.00" font-size="21">M<tspan font-size="14" dx="0.3" dy="-7.6">scr</tspan></text><text x="204" y="188.90" font-size="13" style="font-family:'Liberation Serif',serif">ρ</text>
<text x="644.80" y="407.80" font-size="19.5">M<tspan font-size="13" dy="-8.5">vac</tspan></text><text x="661.60" y="414.60" font-size="12" style="font-family:'Liberation Serif',serif">π</text>
<text x="648.10" y="347.20" font-size="19.5">M<tspan font-size="13" dy="-8.5">vac</tspan></text><text x="664.90" y="354.00" font-size="12" style="font-family:'Liberation Serif',serif">ρ</text>
</svg>
</body></html>
